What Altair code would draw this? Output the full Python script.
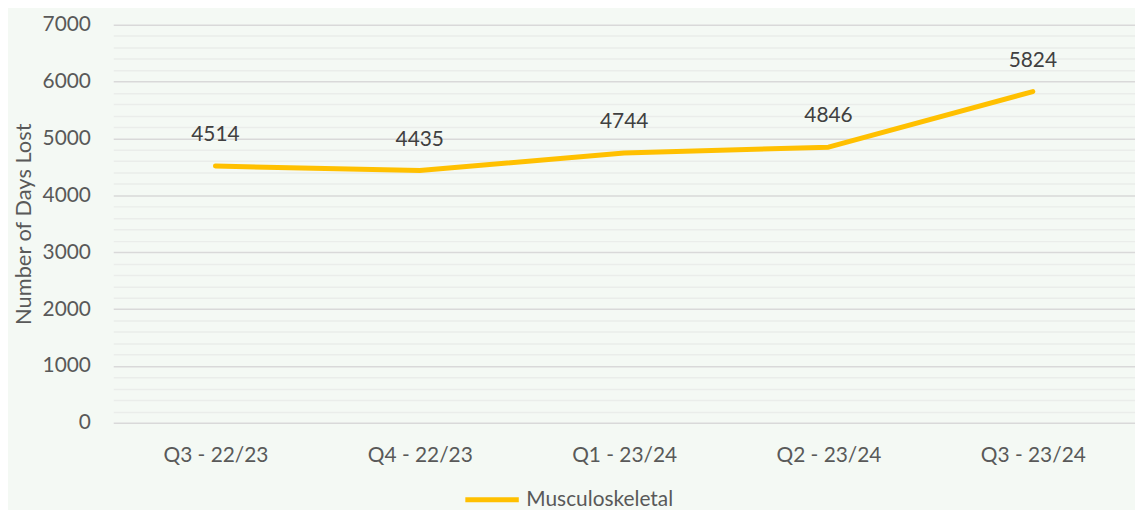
import altair as alt
import pandas as pd

quarters = ["Q3 - 22/23", "Q4 - 22/23", "Q1 - 23/24", "Q2 - 23/24", "Q3 - 23/24"]
days_lost = [4514, 4435, 4744, 4846, 5824]
series_name = "Musculoskeletal"
y_grid_values = list(range(0, 7001, 200))

df = pd.DataFrame({
    "quarter": quarters,
    "days": days_lost,
    "series": [series_name] * len(quarters),
})

FONT = "Lato"
TEXT = "#595959"
BG = "#F4F9F4"

x_enc = alt.X(
    "quarter:N",
    sort=quarters,
    scale=alt.Scale(padding=0.5),
    axis=alt.Axis(
        title=None, labelAngle=0, grid=False, domain=False, ticks=False,
        labelFont=FONT, labelFontSize=21, labelColor=TEXT, labelPadding=22,
    ),
)
y_enc = alt.Y(
    "days:Q",
    scale=alt.Scale(domain=[0, 7000], nice=False),
    axis=alt.Axis(
        title="Number of Days Lost",
        values=y_grid_values,
        format="d",
        labelExpr="datum.value % 1000 === 0 ? datum.label : ''",
        labelOverlap=False,
        grid=True,
        gridColor={"condition": {"test": "datum.value % 1000 === 0", "value": "#D9D9D9"}, "value": "#EAEDEA"},
        gridWidth=1.5,
        domain=False, ticks=False, tickSize=0,
        labelFont=FONT, labelFontSize=21, labelColor=TEXT, labelPadding=23,
        titleFont=FONT, titleFontSize=22, titleColor=TEXT, titleFontWeight="normal",
        titleX=-90, titleY=200.5, titleBaseline="middle",
    ),
)

base = alt.Chart(df).encode(x=x_enc, y=y_enc)

line = base.mark_line(strokeWidth=5, strokeCap="round", strokeJoin="round").encode(
    color=alt.Color(
        "series:N",
        scale=alt.Scale(range=["#FFC000"]),
        legend=alt.Legend(
            title=None, orient="none", legendX=352, legendY=449,
            symbolType="stroke", symbolStrokeWidth=5, symbolSize=2900,
            labelFont=FONT, labelFontSize=21, labelColor=TEXT, labelOffset=5,
            padding=0,
        ),
    )
)

labels = base.mark_text(dy=-31, fontSize=21, font=FONT, color="#404040").encode(
    text=alt.Text("days:Q", format="d")
)

chart = (
    alt.layer(line, labels)
    .properties(
        width=1029,
        height=401,
        autosize=alt.AutoSizeParams(type="none"),
        padding={"left": 106, "top": 15, "right": 0, "bottom": 86},
        background=BG,
    )
    .configure_view(stroke=None)
)

chart.save("out.html", embed_options={"renderer": "svg", "actions": False})
